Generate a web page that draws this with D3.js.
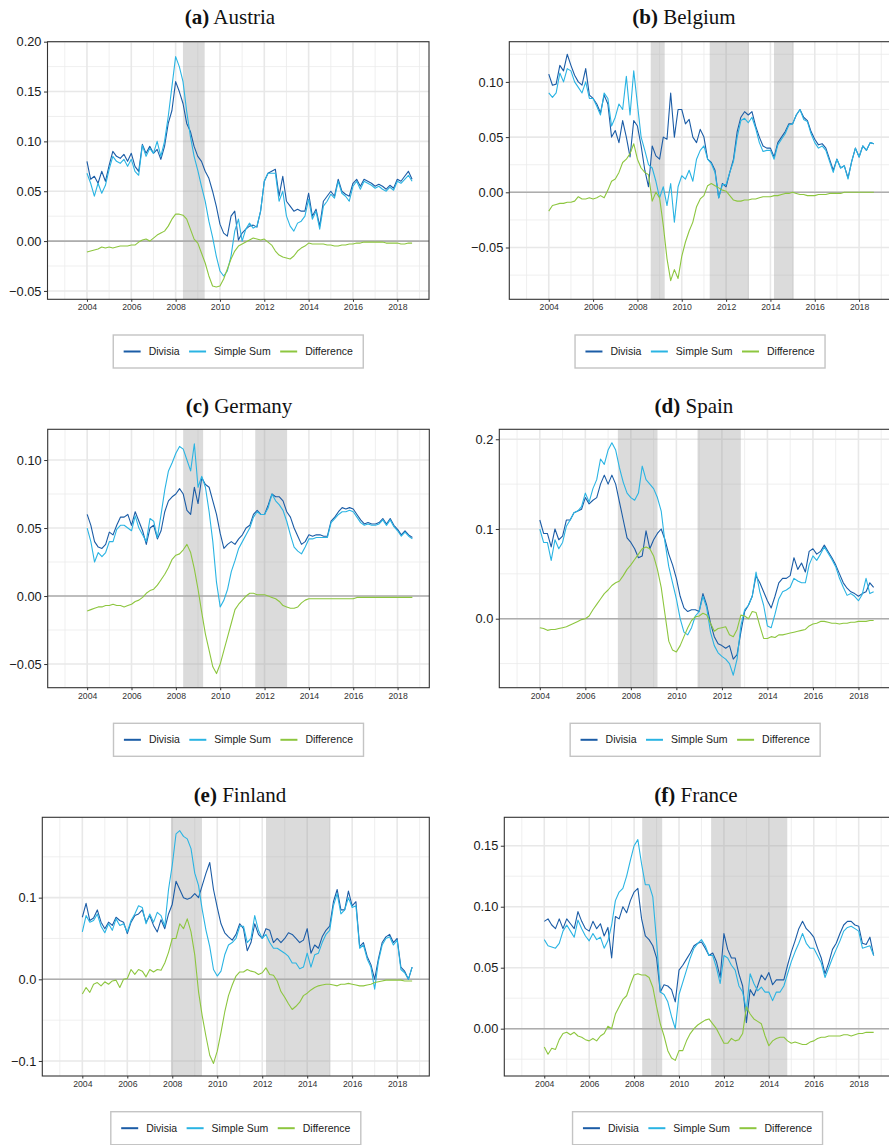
<!DOCTYPE html>
<html>
<head>
<meta charset="utf-8">
<script src="https://cdnjs.cloudflare.com/ajax/libs/d3/7.8.5/d3.min.js"></script>
<style>
    body { margin: 0; background: #fff; }
    svg { display: block; }
</style>
</head>
<body>
<div class="graphic"></div>
<script>
// one reading every two months, Jan 2004 .. Sep 2018 (89 values per series)
var austriaDivisia = [
    0.080, 0.062, 0.065, 0.058, 0.070, 0.060,
    0.076, 0.090, 0.085, 0.083, 0.087, 0.080,
    0.088, 0.075, 0.070, 0.097, 0.088, 0.095,
    0.088, 0.092, 0.082, 0.095, 0.118, 0.131,
    0.160, 0.150, 0.138, 0.118, 0.110, 0.095,
    0.085, 0.080, 0.070, 0.063, 0.050, 0.035,
    0.017, 0.008, 0.005, 0.025, 0.030, 0.001,
    0.008, 0.012, 0.015, 0.016, 0.014, 0.030,
    0.060, 0.068, 0.070, 0.072, 0.045, 0.065,
    0.040, 0.035, 0.030, 0.032, 0.030, 0.030,
    0.048, 0.025, 0.032, 0.015, 0.040, 0.045,
    0.050, 0.045, 0.062, 0.050, 0.047, 0.045,
    0.058, 0.062, 0.055, 0.062, 0.060, 0.058,
    0.055, 0.057, 0.055, 0.052, 0.056, 0.053,
    0.062, 0.060, 0.065, 0.070, 0.062];
var austriaSimpleSum = [
    0.068, 0.058, 0.045, 0.058, 0.048, 0.056,
    0.072, 0.085, 0.080, 0.078, 0.082, 0.075,
    0.082, 0.070, 0.066, 0.096, 0.085, 0.093,
    0.088, 0.100, 0.085, 0.100, 0.125, 0.155,
    0.185, 0.175, 0.160, 0.130, 0.105, 0.085,
    0.071, 0.055, 0.040, 0.020, 0.004, -0.015,
    -0.030, -0.035, -0.030, -0.015, 0.010, 0.022,
    0.000, 0.012, 0.018, 0.013, 0.015, 0.030,
    0.060, 0.068, 0.068, 0.068, 0.040, 0.050,
    0.025, 0.015, 0.010, 0.018, 0.020, 0.025,
    0.042, 0.022, 0.030, 0.012, 0.035, 0.040,
    0.047, 0.043, 0.060, 0.048, 0.045, 0.040,
    0.055, 0.060, 0.052, 0.060, 0.058, 0.056,
    0.053, 0.055, 0.052, 0.050, 0.054, 0.051,
    0.060, 0.058, 0.062, 0.066, 0.060];
var austriaDifference = [
    -0.011, -0.010, -0.009, -0.008, -0.006, -0.007,
    -0.006, -0.007, -0.006, -0.005, -0.005, -0.005,
    -0.004, -0.004, -0.001, 0.001, 0.002, 0.000,
    0.003, 0.006, 0.008, 0.010, 0.015, 0.022,
    0.027, 0.027, 0.026, 0.022, 0.012, 0.002,
    -0.002, -0.012, -0.022, -0.035, -0.045, -0.046,
    -0.045, -0.038, -0.028, -0.018, -0.010, -0.005,
    -0.003, -0.001, 0.001, 0.003, 0.002, 0.001,
    0.002, -0.001, -0.004, -0.010, -0.014, -0.016,
    -0.017, -0.018, -0.015, -0.010, -0.007, -0.005,
    -0.002, -0.003, -0.003, -0.003, -0.003, -0.004,
    -0.004, -0.005, -0.005, -0.004, -0.004, -0.003,
    -0.003, -0.002, -0.002, -0.001, -0.001, -0.001,
    -0.001, -0.001, -0.001, -0.002, -0.002, -0.002,
    -0.002, -0.003, -0.003, -0.002, -0.002];

var belgiumDivisia = [
    0.107, 0.097, 0.098, 0.115, 0.110, 0.125,
    0.115, 0.106, 0.100, 0.097, 0.112, 0.088,
    0.085, 0.080, 0.072, 0.088, 0.080, 0.050,
    0.056, 0.045, 0.065, 0.050, 0.032, 0.065,
    0.060, 0.042, 0.020, 0.005, 0.042, 0.033,
    0.030, 0.050, 0.048, 0.090, 0.050, 0.075,
    0.075, 0.062, 0.066, 0.050, 0.045, 0.057,
    0.050, 0.030, 0.027, 0.020, -0.005, 0.008,
    0.005, 0.018, 0.030, 0.055, 0.068, 0.073,
    0.070, 0.073, 0.060, 0.050, 0.042, 0.040,
    0.040, 0.032, 0.045, 0.050, 0.055, 0.062,
    0.062, 0.070, 0.075, 0.068, 0.065, 0.055,
    0.048, 0.043, 0.044, 0.040, 0.030, 0.020,
    0.030, 0.022, 0.024, 0.013, 0.028, 0.040,
    0.032, 0.042, 0.038, 0.045, 0.044];
var belgiumSimpleSum = [
    0.090, 0.086, 0.090, 0.108, 0.100, 0.112,
    0.110, 0.100, 0.095, 0.090, 0.100, 0.085,
    0.085, 0.078, 0.070, 0.090, 0.085, 0.060,
    0.068, 0.080, 0.075, 0.105, 0.070, 0.110,
    0.080, 0.050, 0.038, 0.025, 0.022, 0.010,
    -0.005, 0.005, -0.012, 0.008, -0.027, 0.005,
    0.015, 0.012, 0.020, 0.010, 0.030, 0.038,
    0.042, 0.030, 0.026, 0.018, -0.005, 0.007,
    0.007, 0.018, 0.028, 0.050, 0.065, 0.067,
    0.063, 0.068, 0.058, 0.045, 0.037, 0.038,
    0.038, 0.030, 0.043, 0.048, 0.053, 0.061,
    0.062, 0.070, 0.075, 0.066, 0.064, 0.053,
    0.045, 0.040, 0.042, 0.038, 0.028, 0.018,
    0.030, 0.022, 0.024, 0.012, 0.028, 0.040,
    0.032, 0.042, 0.038, 0.045, 0.044];
var belgiumDifference = [
    -0.017, -0.012, -0.011, -0.010, -0.010, -0.009,
    -0.009, -0.008, -0.004, -0.006, -0.006, -0.005,
    -0.006, -0.005, -0.003, -0.005, 0.002, 0.010,
    0.012, 0.018, 0.027, 0.030, 0.035, 0.044,
    0.030, 0.022, 0.018, 0.016, -0.008, 0.000,
    -0.005, -0.030, -0.060, -0.080, -0.070, -0.078,
    -0.058, -0.045, -0.035, -0.027, -0.013, -0.006,
    -0.003, 0.006, 0.008, 0.006, 0.004, 0.002,
    0.001, -0.003, -0.007, -0.008, -0.008, -0.007,
    -0.007, -0.006, -0.006, -0.005, -0.004, -0.004,
    -0.004, -0.003, -0.003, -0.002, -0.001, -0.001,
    0.000, -0.001, -0.002, -0.002, -0.003, -0.003,
    -0.003, -0.002, -0.002, -0.002, -0.001, -0.001,
    -0.001, -0.001, 0.000, 0.000, 0.000, 0.000,
    0.000, 0.000, 0.000, 0.000, 0.000];

var germanyDivisia = [
    0.060, 0.052, 0.040, 0.036, 0.035, 0.038,
    0.047, 0.045, 0.052, 0.058, 0.058, 0.060,
    0.052, 0.062, 0.055, 0.048, 0.038, 0.050,
    0.052, 0.042, 0.048, 0.062, 0.070, 0.073,
    0.075, 0.079, 0.075, 0.063, 0.060, 0.080,
    0.068, 0.087, 0.082, 0.080, 0.070, 0.060,
    0.046, 0.035, 0.038, 0.040, 0.038, 0.042,
    0.045, 0.050, 0.052, 0.060, 0.063, 0.060,
    0.060, 0.067, 0.075, 0.073, 0.073, 0.070,
    0.062, 0.058, 0.050, 0.044, 0.038, 0.040,
    0.045, 0.044, 0.045, 0.045, 0.044, 0.044,
    0.055, 0.058, 0.062, 0.065, 0.064, 0.065,
    0.064, 0.060, 0.056, 0.053, 0.054, 0.053,
    0.053, 0.054, 0.057, 0.053, 0.057, 0.052,
    0.049, 0.045, 0.048, 0.045, 0.043];
var germanySimpleSum = [
    0.050, 0.040, 0.025, 0.032, 0.029, 0.032,
    0.040, 0.040, 0.049, 0.052, 0.052, 0.050,
    0.048, 0.059, 0.050, 0.045, 0.040, 0.057,
    0.055, 0.043, 0.060, 0.078, 0.092, 0.098,
    0.105, 0.110, 0.108, 0.100, 0.092, 0.112,
    0.080, 0.088, 0.080, 0.062, 0.040, 0.010,
    -0.008, -0.003, 0.005, 0.018, 0.026, 0.035,
    0.040, 0.045, 0.050, 0.058, 0.062, 0.060,
    0.060, 0.065, 0.075, 0.070, 0.067, 0.063,
    0.055, 0.045, 0.036, 0.033, 0.031, 0.036,
    0.042, 0.042, 0.043, 0.043, 0.043, 0.043,
    0.054, 0.057, 0.060, 0.062, 0.062, 0.063,
    0.062, 0.058, 0.054, 0.052, 0.053, 0.052,
    0.052, 0.053, 0.056, 0.052, 0.056, 0.051,
    0.048, 0.044, 0.047, 0.044, 0.042];
var germanyDifference = [
    -0.011, -0.010, -0.009, -0.008, -0.008, -0.007,
    -0.007, -0.006, -0.007, -0.007, -0.008, -0.007,
    -0.006, -0.004, -0.003, -0.001, 0.002, 0.004,
    0.005, 0.008, 0.012, 0.016, 0.021, 0.027,
    0.030, 0.031, 0.034, 0.038, 0.032, 0.020,
    0.005, -0.012, -0.028, -0.040, -0.052, -0.057,
    -0.050, -0.040, -0.030, -0.020, -0.010, -0.006,
    -0.003, 0.000, 0.002, 0.002, 0.001, 0.001,
    0.001, 0.000, -0.001, -0.002, -0.004, -0.007,
    -0.008, -0.009, -0.009, -0.008, -0.005, -0.003,
    -0.002, -0.002, -0.002, -0.002, -0.002, -0.002,
    -0.002, -0.002, -0.002, -0.002, -0.002, -0.002,
    -0.002, -0.001, -0.001, -0.001, -0.001, -0.001,
    -0.001, -0.001, -0.001, -0.001, -0.001, -0.001,
    -0.001, -0.001, -0.001, -0.001, -0.001];

var spainDivisia = [
    0.110, 0.095, 0.095, 0.080, 0.100, 0.088,
    0.092, 0.110, 0.110, 0.118, 0.120, 0.122,
    0.135, 0.128, 0.132, 0.135, 0.150, 0.160,
    0.150, 0.160, 0.150, 0.130, 0.110, 0.090,
    0.085, 0.078, 0.068, 0.070, 0.098, 0.078,
    0.088, 0.095, 0.100, 0.088, 0.072, 0.060,
    0.045, 0.025, 0.012, 0.008, 0.010, 0.010,
    0.008, 0.028, 0.015, -0.005, -0.020, -0.028,
    -0.030, -0.033, -0.030, -0.045, -0.040, -0.015,
    0.008, 0.015, 0.025, 0.048, 0.040, 0.030,
    0.020, 0.012, 0.025, 0.040, 0.045, 0.045,
    0.048, 0.068, 0.055, 0.062, 0.052, 0.075,
    0.078, 0.072, 0.075, 0.082, 0.075, 0.068,
    0.060, 0.050, 0.040, 0.034, 0.030, 0.028,
    0.025, 0.028, 0.030, 0.040, 0.035];
var spainSimpleSum = [
    0.100, 0.085, 0.085, 0.065, 0.088, 0.078,
    0.085, 0.103, 0.110, 0.118, 0.120, 0.125,
    0.140, 0.130, 0.145, 0.155, 0.178, 0.172,
    0.188, 0.196, 0.188, 0.168, 0.152, 0.140,
    0.135, 0.132, 0.140, 0.170, 0.155, 0.150,
    0.145, 0.135, 0.120, 0.085, 0.058, 0.040,
    0.022, 0.000, -0.015, -0.018, -0.010, 0.003,
    0.008, 0.025, 0.012, -0.015, -0.030, -0.038,
    -0.042, -0.045, -0.050, -0.063, -0.045, -0.008,
    0.010, 0.015, 0.025, 0.052, 0.030, 0.015,
    -0.008, -0.010, 0.005, 0.022, 0.030, 0.032,
    0.035, 0.045, 0.042, 0.040, 0.040, 0.060,
    0.070, 0.065, 0.072, 0.080, 0.073, 0.066,
    0.058, 0.045, 0.035, 0.026, 0.028, 0.025,
    0.020, 0.027, 0.045, 0.028, 0.030];
var spainDifference = [
    -0.010, -0.011, -0.013, -0.012, -0.012, -0.011,
    -0.010, -0.009, -0.007, -0.005, -0.003, -0.001,
    0.000, 0.003, 0.010, 0.016, 0.022, 0.028,
    0.032, 0.037, 0.040, 0.042, 0.048, 0.055,
    0.060, 0.066, 0.072, 0.078, 0.080, 0.078,
    0.070, 0.055, 0.035, 0.005, -0.025, -0.035,
    -0.037, -0.030, -0.020, -0.010, -0.002, 0.002,
    0.003, 0.006, 0.004, -0.005, -0.014, -0.011,
    -0.010, -0.009, -0.018, -0.020, -0.012, 0.004,
    0.003, 0.000, 0.008, 0.007, -0.008, -0.022,
    -0.022, -0.020, -0.021, -0.018, -0.018, -0.017,
    -0.016, -0.015, -0.014, -0.013, -0.012, -0.008,
    -0.006, -0.005, -0.003, -0.003, -0.004, -0.005,
    -0.005, -0.006, -0.005, -0.005, -0.004, -0.004,
    -0.003, -0.003, -0.003, -0.002, -0.002];

var finlandDivisia = [
    0.076, 0.093, 0.072, 0.075, 0.085, 0.070,
    0.062, 0.070, 0.066, 0.076, 0.072, 0.070,
    0.056, 0.070, 0.078, 0.080, 0.085, 0.070,
    0.078, 0.066, 0.058, 0.073, 0.062, 0.080,
    0.092, 0.120, 0.110, 0.100, 0.098, 0.100,
    0.105, 0.100, 0.115, 0.130, 0.143, 0.110,
    0.088, 0.068, 0.057, 0.052, 0.048, 0.055,
    0.068, 0.062, 0.035, 0.045, 0.068, 0.055,
    0.050, 0.062, 0.060, 0.045, 0.050, 0.045,
    0.050, 0.057, 0.055, 0.050, 0.045, 0.048,
    0.062, 0.032, 0.042, 0.038, 0.052, 0.060,
    0.065, 0.095, 0.110, 0.085, 0.085, 0.108,
    0.090, 0.095, 0.040, 0.045, 0.028, 0.018,
    0.000, 0.025, 0.045, 0.052, 0.055, 0.045,
    0.050, 0.015, 0.010, 0.000, 0.015];
var finlandSimpleSum = [
    0.058, 0.078, 0.070, 0.072, 0.080, 0.065,
    0.057, 0.068, 0.060, 0.074, 0.066, 0.068,
    0.058, 0.072, 0.080, 0.090, 0.088, 0.068,
    0.080, 0.070, 0.082, 0.078, 0.065, 0.110,
    0.140, 0.178, 0.182, 0.175, 0.172, 0.160,
    0.130, 0.115, 0.085, 0.060, 0.040, 0.012,
    0.004, 0.010, 0.030, 0.042, 0.045, 0.050,
    0.065, 0.065, 0.045, 0.050, 0.078, 0.060,
    0.050, 0.055, 0.045, 0.038, 0.038, 0.035,
    0.032, 0.028, 0.020, 0.020, 0.013, 0.015,
    0.032, 0.015, 0.030, 0.032, 0.045, 0.055,
    0.060, 0.090, 0.105, 0.080, 0.085, 0.100,
    0.088, 0.090, 0.038, 0.042, 0.025, 0.015,
    -0.012, 0.022, 0.042, 0.050, 0.052, 0.042,
    0.048, 0.012, 0.008, 0.000, 0.015];
var finlandDifference = [
    -0.018, -0.010, -0.016, -0.006, -0.004, -0.008,
    -0.003, -0.006, -0.002, -0.001, -0.010, 0.000,
    0.001, 0.012, 0.006, 0.012, 0.010, 0.003,
    0.012, 0.009, 0.012, 0.011, 0.020, 0.033,
    0.050, 0.050, 0.068, 0.062, 0.074, 0.058,
    0.030, -0.015, -0.045, -0.070, -0.093, -0.103,
    -0.088, -0.065, -0.040, -0.020, -0.007, 0.004,
    0.009, 0.009, 0.012, 0.010, 0.009, 0.006,
    0.008, 0.014, 0.006, 0.005, -0.002, -0.015,
    -0.022, -0.030, -0.037, -0.033, -0.028, -0.020,
    -0.017, -0.013, -0.010, -0.008, -0.007, -0.006,
    -0.006, -0.007, -0.008, -0.006, -0.006, -0.005,
    -0.006, -0.007, -0.008, -0.008, -0.007, -0.006,
    -0.004, -0.003, -0.002, -0.001, -0.001, -0.001,
    -0.001, -0.001, -0.002, -0.002, -0.002];

var franceDivisia = [
    0.088, 0.090, 0.085, 0.082, 0.090, 0.082,
    0.090, 0.086, 0.082, 0.096, 0.088, 0.082,
    0.080, 0.088, 0.082, 0.086, 0.076, 0.083,
    0.058, 0.092, 0.090, 0.100, 0.095, 0.105,
    0.112, 0.115, 0.090, 0.076, 0.073, 0.068,
    0.058, 0.030, 0.036, 0.035, 0.032, 0.022,
    0.048, 0.052, 0.057, 0.062, 0.068, 0.070,
    0.071, 0.066, 0.060, 0.062, 0.055, 0.042,
    0.078, 0.065, 0.058, 0.058, 0.045, 0.035,
    0.005, 0.032, 0.027, 0.035, 0.044, 0.040,
    0.046, 0.036, 0.040, 0.040, 0.040, 0.052,
    0.063, 0.072, 0.082, 0.088, 0.082, 0.079,
    0.075, 0.066, 0.058, 0.045, 0.054, 0.065,
    0.070, 0.078, 0.085, 0.088, 0.088, 0.085,
    0.084, 0.070, 0.069, 0.075, 0.060];
var franceSimpleSum = [
    0.073, 0.068, 0.067, 0.066, 0.070, 0.080,
    0.085, 0.080, 0.075, 0.089, 0.082, 0.076,
    0.072, 0.078, 0.073, 0.075, 0.066, 0.072,
    0.085, 0.105, 0.112, 0.115, 0.125, 0.138,
    0.150, 0.155, 0.135, 0.118, 0.118, 0.108,
    0.072, 0.030, 0.028, 0.022, 0.010, 0.000,
    0.028, 0.038, 0.048, 0.058, 0.066, 0.070,
    0.073, 0.068, 0.060, 0.060, 0.050, 0.037,
    0.060, 0.058, 0.052, 0.048, 0.035, 0.030,
    0.015, 0.045, 0.037, 0.031, 0.034, 0.030,
    0.030, 0.023, 0.030, 0.030, 0.035, 0.045,
    0.055, 0.063, 0.070, 0.078, 0.070, 0.066,
    0.066, 0.060, 0.054, 0.042, 0.050, 0.058,
    0.065, 0.072, 0.080, 0.083, 0.084, 0.082,
    0.080, 0.066, 0.067, 0.068, 0.060];
var franceDifference = [
    -0.015, -0.021, -0.016, -0.017, -0.009, -0.004,
    -0.003, -0.005, -0.003, -0.006, -0.007, -0.009,
    -0.010, -0.008, -0.010, -0.006, -0.004, 0.002,
    0.000, 0.012, 0.018, 0.024, 0.027, 0.036,
    0.044, 0.045, 0.044, 0.044, 0.042, 0.034,
    0.018, 0.004, -0.006, -0.018, -0.024, -0.026,
    -0.018, -0.018, -0.010, -0.004, 0.000, 0.003,
    0.005, 0.007, 0.008, 0.004, 0.000, -0.006,
    -0.012, -0.012, -0.008, -0.010, -0.009, -0.004,
    0.018, 0.012, 0.008, 0.006, 0.004, -0.006,
    -0.014, -0.010, -0.008, -0.007, -0.007, -0.010,
    -0.012, -0.011, -0.012, -0.013, -0.013, -0.011,
    -0.010, -0.008, -0.007, -0.007, -0.006, -0.006,
    -0.006, -0.006, -0.005, -0.005, -0.006, -0.005,
    -0.004, -0.004, -0.003, -0.003, -0.003];

// shaded periods (decimal years)
var austriaShading = [[2008.33, 2009.31]];
var belgiumShading = [[2008.60, 2009.23], [2011.26, 2013.03], [2014.16, 2015.05]];
var germanyShading = [[2008.33, 2009.23], [2011.58, 2013.00]];
var spainShading = [[2007.43, 2009.17], [2010.93, 2012.83]];
var finlandShading = [[2007.94, 2009.32], [2012.17, 2015.03]];
var franceShading = [[2008.36, 2009.25], [2011.43, 2014.82]];

var seriesNames = ["Divisia", "Simple Sum", "Difference"];
var seriesColors = ["#1b5ca6", "#2ab4e3", "#8dc63f"];

var xMajorTicks = [2004, 2006, 2008, 2010, 2012, 2014, 2016, 2018];
var xMinorTicks = [2003, 2005, 2007, 2009, 2011, 2013, 2015, 2017, 2019];

var dates = [];
for (var i = 0; i < austriaDivisia.length; i++) dates.push(2004 + i / 6);

var panels = [
    { label: "(a)", name: "Austria", series: [austriaDivisia, austriaSimpleSum, austriaDifference], shading: austriaShading, yTicks: [-0.05, 0, 0.05, 0.10, 0.15, 0.20], fmt: ".2f" },
    { label: "(b)", name: "Belgium", series: [belgiumDivisia, belgiumSimpleSum, belgiumDifference], shading: belgiumShading, yTicks: [-0.05, 0, 0.05, 0.10], fmt: ".2f" },
    { label: "(c)", name: "Germany", series: [germanyDivisia, germanySimpleSum, germanyDifference], shading: germanyShading, yTicks: [-0.05, 0, 0.05, 0.10], fmt: ".2f" },
    { label: "(d)", name: "Spain", series: [spainDivisia, spainSimpleSum, spainDifference], shading: spainShading, yTicks: [0, 0.1, 0.2], fmt: ".1f" },
    { label: "(e)", name: "Finland", series: [finlandDivisia, finlandSimpleSum, finlandDifference], shading: finlandShading, yTicks: [-0.1, 0, 0.1], fmt: ".1f" },
    { label: "(f)", name: "France", series: [franceDivisia, franceSimpleSum, franceDifference], shading: franceShading, yTicks: [0, 0.05, 0.10, 0.15], fmt: ".2f" }
];

// plot frames in page pixels, plus the visible y range of each panel
var layout = [
    { left: 47.5, right: 429, top: 41.7, bottom: 299.3, yDomain: [-0.0584, 0.2000], titleX: 230, titleY: 24, legendY: 335 },
    { left: 509.3, right: 890.8, top: 41.7, bottom: 299.3, yDomain: [-0.0969, 0.1364], titleX: 684, titleY: 24, legendY: 335 },
    { left: 47.7, right: 429.3, top: 429.3, bottom: 687.7, yDomain: [-0.0674, 0.1226], titleX: 239, titleY: 413, legendY: 723.3 },
    { left: 499.3, right: 891, top: 429.3, bottom: 687.7, yDomain: [-0.0769, 0.2111], titleX: 694, titleY: 413, legendY: 723.3 },
    { left: 42.3, right: 429.3, top: 817.3, bottom: 1076, yDomain: [-0.1184, 0.1984], titleX: 240, titleY: 801.7, legendY: 1111.7 },
    { left: 504.3, right: 890.8, top: 817.3, bottom: 1076, yDomain: [-0.0388, 0.1733], titleX: 696, titleY: 801.7, legendY: 1111.7 }
];
var xDomain = [2002.22, 2019.43];

var render = function () {
    var containerElement = document.querySelector(".graphic");
    containerElement.innerHTML = "";

    var svg = d3.select(containerElement)
        .append("svg")
        .attr("width", 889)
        .attr("height", 1145);

    var defs = svg.append("defs");

    panels.forEach(function (p, k) {
        var box = layout[k];
        var x = d3.scaleLinear().domain(xDomain).range([box.left, box.right]);
        var y = d3.scaleLinear().domain(box.yDomain).range([box.bottom, box.top]);
        var g = svg.append("g").attr("class", "panel");

        defs.append("clipPath").attr("id", "clip" + k)
            .append("rect")
            .attr("x", box.left).attr("y", box.top)
            .attr("width", box.right - box.left)
            .attr("height", box.bottom - box.top);

        var plot = g.append("g").attr("clip-path", "url(#clip" + k + ")");

        // minor y grid at the midpoints between labelled ticks
        var step = p.yTicks[1] - p.yTicks[0];
        var yMinor = [];
        for (var v = p.yTicks[0] - step / 2; v < box.yDomain[1]; v += step) {
            if (v > box.yDomain[0]) yMinor.push(v);
        }

        plot.selectAll(".ygrid-minor").data(yMinor).join("line")
            .attr("x1", box.left).attr("x2", box.right)
            .attr("y1", d => y(d)).attr("y2", d => y(d))
            .attr("stroke", "#ebebeb").attr("stroke-width", 0.8);
        plot.selectAll(".xgrid-minor").data(xMinorTicks).join("line")
            .attr("y1", box.top).attr("y2", box.bottom)
            .attr("x1", d => x(d)).attr("x2", d => x(d))
            .attr("stroke", "#ebebeb").attr("stroke-width", 0.8);
        plot.selectAll(".ygrid").data(p.yTicks).join("line")
            .attr("x1", box.left).attr("x2", box.right)
            .attr("y1", d => y(d)).attr("y2", d => y(d))
            .attr("stroke", "#e8e8e8").attr("stroke-width", 1.6);
        plot.selectAll(".xgrid").data(xMajorTicks).join("line")
            .attr("y1", box.top).attr("y2", box.bottom)
            .attr("x1", d => x(d)).attr("x2", d => x(d))
            .attr("stroke", "#e8e8e8").attr("stroke-width", 1.6);

        // shaded periods
        plot.selectAll(".shade").data(p.shading).join("rect")
            .attr("x", d => x(d[0]))
            .attr("width", d => x(d[1]) - x(d[0]))
            .attr("y", box.top).attr("height", box.bottom - box.top)
            .attr("fill", "#999").attr("fill-opacity", 0.35);

        // zero line
        plot.append("line")
            .attr("x1", box.left).attr("x2", box.right)
            .attr("y1", y(0)).attr("y2", y(0))
            .attr("stroke", "#adadad").attr("stroke-width", 1.6);

        var line = d3.line()
            .x((d, i) => x(dates[i]))
            .y(d => y(d));

        plot.selectAll(".series").data(p.series).join("path")
            .attr("d", d => line(d))
            .attr("fill", "none")
            .attr("stroke", (d, i) => seriesColors[i])
            .attr("stroke-width", 1.1)
            .attr("stroke-linejoin", "round");

        // frame
        g.append("rect")
            .attr("x", box.left).attr("y", box.top)
            .attr("width", box.right - box.left)
            .attr("height", box.bottom - box.top)
            .attr("fill", "none").attr("stroke", "#333").attr("stroke-width", 1.1);

        // axes
        var yAxis = d3.axisLeft(y).tickValues(p.yTicks)
            .tickFormat(d3.format(p.fmt)).tickSize(3.5).tickPadding(2.5);
        var ya = g.append("g").attr("transform", `translate(${box.left},0)`).call(yAxis);
        ya.select(".domain").remove();
        ya.selectAll("line").attr("stroke", "#333");
        ya.selectAll("text")
            .attr("fill", "#1a1a1a")
            .style("font-family", "'Liberation Sans', Arial, sans-serif")
            .style("font-size", "12.8px");

        var xAxis = d3.axisBottom(x).tickValues(xMajorTicks)
            .tickFormat(d3.format("d")).tickSize(2.5).tickPadding(2.5);
        var xa = g.append("g").attr("transform", `translate(0,${box.bottom})`).call(xAxis);
        xa.select(".domain").remove();
        xa.selectAll("line").attr("stroke", "#333");
        xa.selectAll("text")
            .attr("fill", "#333")
            .style("font-family", "'Liberation Sans', Arial, sans-serif")
            .style("font-size", "8.7px");

        // title
        var title = g.append("text")
            .attr("x", box.titleX).attr("y", box.titleY)
            .attr("text-anchor", "middle")
            .style("font-family", "'Liberation Serif', 'Times New Roman', serif")
            .style("font-size", "21px")
            .attr("fill", "#111");
        title.append("tspan").attr("font-weight", "bold").text(p.label);
        title.append("tspan").text(" " + p.name);

        // legend
        var cx = (box.left + box.right) / 2;
        var lw = 250, lh = 33;
        var lg = g.append("g").attr("transform", `translate(${cx - lw / 2},${box.legendY})`);
        lg.append("rect")
            .attr("x", 0).attr("y", 0).attr("width", lw).attr("height", lh)
            .attr("fill", "#fff").attr("stroke", "#c4c4c4").attr("stroke-width", 1.4);

        var items = lg.append("g");
        var pos = 0;
        seriesNames.forEach(function (name, i) {
            var it = items.append("g").attr("transform", `translate(${pos},0)`);
            it.append("line")
                .attr("x1", 0).attr("x2", 17)
                .attr("y1", lh / 2).attr("y2", lh / 2)
                .attr("stroke", seriesColors[i]).attr("stroke-width", 2);
            var t = it.append("text")
                .attr("x", 25).attr("y", lh / 2)
                .attr("dy", "0.35em")
                .attr("fill", "#1a1a1a")
                .style("font-family", "'Liberation Sans', Arial, sans-serif")
                .style("font-size", "10.5px")
                .text(name);
            pos += 25 + t.node().getComputedTextLength() + 9.5;
        });
        var contentW = pos - 9.5;
        items.attr("transform", `translate(${(lw - contentW) / 2},0)`);
    });
};

render();
</script>
</body>
</html>
